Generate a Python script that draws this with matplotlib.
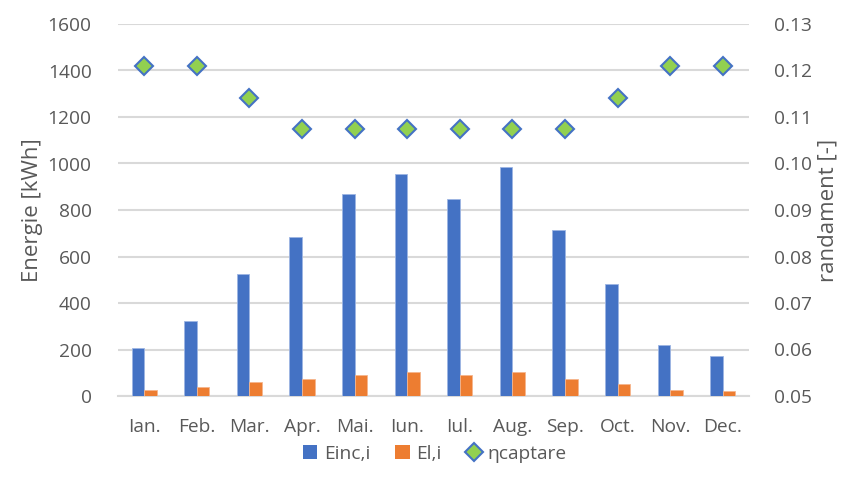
import matplotlib
matplotlib.use("Agg")
import matplotlib.pyplot as plt
import numpy as np
from matplotlib.lines import Line2D
from matplotlib.patches import Patch

months = ["Ian.", "Feb.", "Mar.", "Apr.", "Mai.", "Iun.", "Iul.", "Aug.", "Sep.", "Oct.", "Nov.", "Dec."]
e_inc = [208, 322, 526, 684, 869, 955, 847, 985, 716, 480, 221, 172]
e_l = [24, 37, 59, 72, 92, 102, 89, 105, 75, 53, 26, 20]
eta = [0.1209, 0.1209, 0.1140, 0.1074, 0.1074, 0.1074, 0.1074, 0.1074, 0.1074, 0.1140, 0.1209, 0.1209]

left_ticks = [0, 200, 400, 600, 800, 1000, 1200, 1400, 1600]
right_ticks = [0.05, 0.06, 0.07, 0.08, 0.09, 0.10, 0.11, 0.12, 0.13]

plt.rcParams['font.family'] = ['Open Sans', 'DejaVu Sans']
TXT = '#595959'
BLUE = '#4472C4'
ORANGE = '#ED7D31'
GREEN = '#92D050'
GRID = '#D9D9D9'
FS = 13.8

fig = plt.figure(figsize=(8.52, 4.90), dpi=100)
ax = fig.add_axes([118/852, 1-396/490, (749-118)/852, (396-24)/490])
ax2 = ax.twinx()

x = np.arange(len(months))
w = 0.24
ax.bar(x - w/2, e_inc, width=w, color=BLUE, edgecolor='#9DB5E3', linewidth=0.6, zorder=3)
ax.bar(x + w/2, e_l, width=w, color=ORANGE, edgecolor='#F5B58D', linewidth=0.6, zorder=3)

ax.set_xlim(-0.5, 11.5)
ax.set_ylim(0, 1600)
ax.set_yticks(left_ticks)
ax.set_yticklabels([str(t) for t in left_ticks])
ax.set_xticks(x)
ax.set_xticklabels(months)
ax.grid(axis='y', color=GRID, linewidth=1.5, zorder=0)
ax.set_axisbelow(True)

ax2.plot(x, eta, linestyle='none', marker='D', markersize=9, markerfacecolor=GREEN,
         markeredgecolor=BLUE, markeredgewidth=1.5, zorder=5)
ax2.set_ylim(0.05, 0.13)
ax2.set_yticks(right_ticks)
ax2.set_yticklabels([f"{t:.2f}" for t in right_ticks])

for a in (ax, ax2):
    for s in a.spines.values():
        s.set_visible(False)
    a.tick_params(length=0, labelsize=FS, labelcolor=TXT)
ax.spines['bottom'].set_visible(True)
ax.spines['bottom'].set_color(GRID)
ax.spines['bottom'].set_linewidth(1.5)
ax.tick_params(axis='y', pad=19)
ax.tick_params(axis='x', pad=16)
ax2.tick_params(axis='y', pad=18)

ax.set_ylabel("Energie [kWh]", fontsize=16, color=TXT, labelpad=3)
ax2.set_ylabel("randament [-]", fontsize=16, color=TXT, labelpad=4)

handles = [Patch(facecolor=BLUE, edgecolor='none'),
           Patch(facecolor=ORANGE, edgecolor='none'),
           Line2D([], [], linestyle='none', marker='D', markersize=9, markerfacecolor=GREEN,
                  markeredgecolor=BLUE, markeredgewidth=1.5)]
fig.legend(handles, ["Einc,i", "El,i", "ηcaptare"], loc='center', bbox_to_anchor=(435/852, 1-454/490),
           ncol=3, frameon=False, fontsize=FS, labelcolor=TXT, handlelength=0.75, handleheight=0.75,
           handletextpad=0.35, columnspacing=1.3)

fig.savefig("out.png", dpi=100)
